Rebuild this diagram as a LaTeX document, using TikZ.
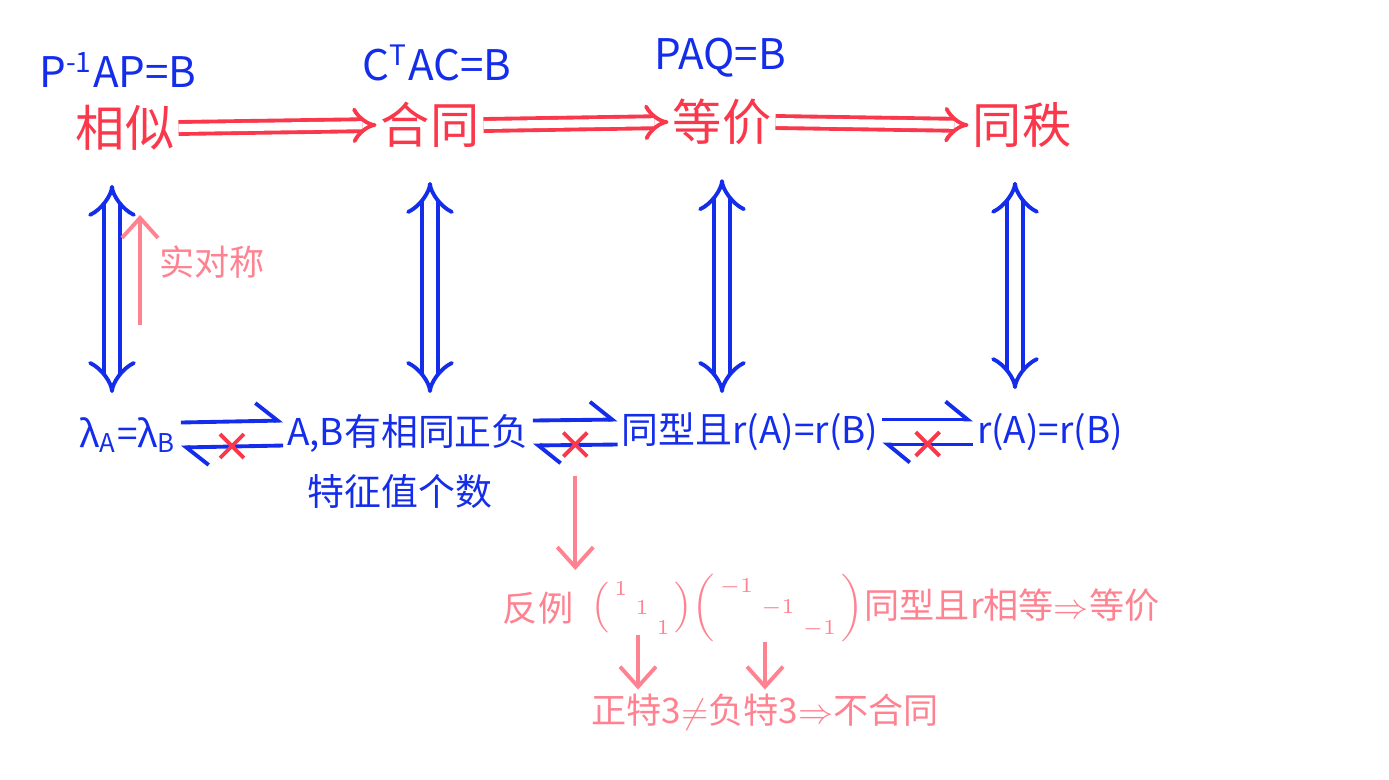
\documentclass[tikz,border=0pt]{standalone}
\usepackage{amsmath}
\usepackage{fontspec}
\setmainfont{Noto Sans CJK SC}
\usetikzlibrary{arrows.meta,calc,shapes.misc}

\definecolor{hred}{RGB}{250,55,75}
\definecolor{hblue}{RGB}{20,45,235}
\definecolor{hpink}{RGB}{255,130,145}

\tikzset{
  rel/.style={text=hred, font=\fontsize{14}{16}\selectfont, inner sep=1pt},
  cond/.style={text=hblue, font=\fontsize{12}{14}\selectfont, inner sep=1pt},
  prop/.style={text=hblue, font=\fontsize{10.5}{13}\selectfont, inner sep=1pt},
  note/.style={text=hpink, font=\fontsize{10}{12}\selectfont, inner sep=1pt},
  mat/.style={text=hpink, font=\fontsize{8.5}{10}\selectfont, inner sep=0pt},
  imp/.style={draw=hred, line width=1.1pt, double=white, double distance=2.3pt, -{Implies}},
  iff/.style={draw=hblue, line width=1.1pt, double=white, double distance=3.6pt, {Implies}-{Implies}},
  harp/.style={draw=hblue, line width=1.1pt, -{Straight Barb[left, length=2.2mm, width=3.6mm]}},
  nope/.style={cross out, draw=hred, line width=1.1pt, minimum size=2mm, inner sep=0pt},
  hint/.style={draw=hpink, line width=1.1pt, -{Straight Barb[length=2mm, width=3.6mm]}}
}

\begin{document}
\begin{tikzpicture}
    \useasboundingbox (0,0) rectangle (13.89,-7.79);

    % riga superiore: le quattro relazioni
    \node[rel] (xs) at (1.25,-1.28) {相似};
    \node[rel] (ht) at (4.30,-1.25) {合同};
    \node[rel] (dj) at (7.22,-1.22) {等价};
    \node[rel] (zh) at (10.22,-1.25) {同秩};

    % definizioni sopra
    \node[cond] (dxs) at (1.18,-0.70) {P\textsuperscript{-1}AP=B};
    \node[cond] (dht) at (4.37,-0.63) {C\textsuperscript{T}AC=B};
    \node[cond] (ddj) at (7.20,-0.58) {PAQ=B};

    % implicazioni rosse
    \draw[imp] (xs.east) -- (ht.west);
    \draw[imp] (ht.east) -- (dj.west);
    \draw[imp] (dj.east) -- (zh.west);

    % riga inferiore: condizioni equivalenti
    \node[prop] (la) at (1.28,-4.35) {λ\textsubscript{A}=λ\textsubscript{B}};
    \node[prop] (zf) at (4.08,-4.33) {A,B有相同正负};
    \node[prop] (zf2) at (4.00,-4.92) {特征值个数};
    \node[prop] (tx) at (7.50,-4.32) {同型且r(A)=r(B)};
    \node[prop] (rk) at (10.50,-4.32) {r(A)=r(B)};

    % frecce verticali
    \draw[iff, shorten <=3mm, shorten >=2mm] (xs.south -| 1.12,0) -- (la.north -| 1.12,0);
    \draw[iff, shorten <=3mm, shorten >=2mm] (ht.south) -- (ht.south |- la.north);
    \draw[iff, shorten <=3mm, shorten >=2mm] (dj.south) -- (dj.south |- la.north);
    \draw[iff, shorten <=3mm, shorten >=2mm] (zh.south -| 10.15,0) -- (rk.north -| 10.15,0);

    % condizione aggiuntiva
    \coordinate (sd) at (1.40,-3.25);
    \coordinate (su) at (1.40,-2.15);
    \draw[hint] (sd) -- (su);
    \node[note] (sym) at (2.12,-2.62) {实对称};

    % arpioni con la croce
    \draw[harp] ([yshift=1.25mm]la.east) -- ([yshift=1.25mm]zf.west);
    \draw[harp] ([yshift=-1.25mm]zf.west) -- ([yshift=-1.25mm]la.east);
    \node[nope] (x1) at ($(la.east)!0.5!(zf.west)+(0,-0.12)$) {};

    \draw[harp] ([yshift=1.25mm]zf.east) -- ([yshift=1.25mm]tx.west);
    \draw[harp] ([yshift=-1.25mm]tx.west) -- ([yshift=-1.25mm]zf.east);
    \node[nope] (x2) at ($(zf.east)!0.5!(tx.west)+(0,-0.12)$) {};

    \draw[harp] ([yshift=1.25mm]tx.east) -- ([yshift=1.25mm]rk.west);
    \draw[harp] ([yshift=-1.25mm]rk.west) -- ([yshift=-1.25mm]tx.east);
    \node[nope] (x3) at ($(tx.east)!0.5!(rk.west)+(0,-0.12)$) {};

    % controesempio
    \node[note] (fl) at (5.38,-6.08) {反例};
    \node[mat] (m1) at (6.42,-6.08) {$\left(\begin{smallmatrix}1&&\\&1&\\&&1\end{smallmatrix}\right)$};
    \node[mat] (m2) at (7.78,-6.08) {$\left(\begin{smallmatrix}-1&&\\&-1&\\&&-1\end{smallmatrix}\right)$};
    \node[note] (eq) at (10.12,-6.05) {同型且r相等$\Rightarrow$等价};
    \node[note] (bt) at (7.65,-7.12) {正特3$\neq$负特3$\Rightarrow$不合同};

    \coordinate (fe) at (x2 |- 0,-5.70);
    \draw[hint] ([yshift=-2mm]x2.south) -- (fe);
    \draw[hint] (m1.south -| 6.38,0) -- (bt.north -| 6.38,0);
    \draw[hint] (m2.south -| 7.65,0) -- (bt.north -| 7.65,0);

\end{tikzpicture}
\end{document}
